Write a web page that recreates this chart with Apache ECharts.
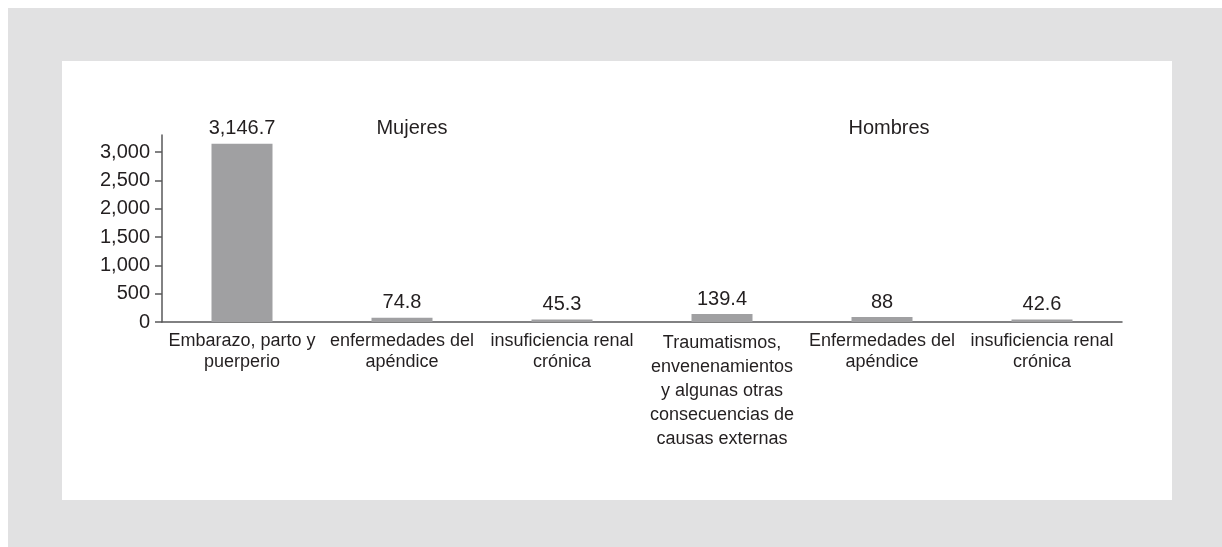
<!DOCTYPE html>
<html>
<head>
<meta charset="utf-8">
<script src="https://cdn.jsdelivr.net/npm/echarts@6/dist/echarts.min.js"></script>
<style>
  html, body { margin: 0; padding: 0; background: #ffffff; width: 1222px; height: 547px; overflow: hidden; }
  #frame { position: absolute; left: 8px; top: 8px; width: 1214px; height: 539px; background: #e1e1e2; }
  #chart { position: absolute; left: 62px; top: 61px; width: 1110px; height: 439px; background: #ffffff; }
</style>
</head>
<body>
<div id="frame"></div>
<div id="chart"></div>
<script>
const categories = [
  "Embarazo, parto y\npuerperio",
  "enfermedades del\napéndice",
  "insuficiencia renal\ncrónica",
  "Traumatismos,\nenvenenamientos\ny algunas otras\nconsecuencias de\ncausas externas",
  "Enfermedades del\napéndice",
  "insuficiencia renal\ncrónica"
];
const values = [3146.7, 74.8, 45.3, 139.4, 88, 42.6];
const yTicks = [0, 500, 1000, 1500, 2000, 2500, 3000];
const groupLabels = ["Mujeres", "Hombres"];

const FONT = '"Liberation Sans", Arial, Helvetica, sans-serif';
const TXT = '#231f20';
const fmt = v => Number(v).toLocaleString('en-US', { maximumFractionDigits: 1 });

const chart = echarts.init(document.getElementById('chart'), null, { renderer: 'canvas' });
chart.setOption({
  backgroundColor: '#ffffff',
  animation: false,
  textStyle: { fontFamily: FONT, color: TXT },
  title: [
    { text: groupLabels[0], left: 345, top: 52, textAlign: 'center',
      textStyle: { fontFamily: FONT, fontSize: 20, fontWeight: 'normal', color: TXT } },
    { text: groupLabels[1], left: 822, top: 52, textAlign: 'center',
      textStyle: { fontFamily: FONT, fontSize: 20, fontWeight: 'normal', color: TXT } }
  ],
  grid: { left: 100, right: 50, top: 74, bottom: 178, containLabel: false },
  xAxis: {
    type: 'category',
    data: categories,
    axisLine: { show: true, lineStyle: { color: '#58585a', width: 1.5 } },
    axisTick: { show: false },
    axisLabel: {
      interval: 0, margin: 9, fontSize: 18,
      color: TXT, fontFamily: FONT, align: 'center',
      formatter: (v) => (v.split('\n').length > 2 ? '{t|' : '{n|') + v.split('\n').join('}\n' + (v.split('\n').length > 2 ? '{t|' : '{n|')) + '}',
      rich: {
        n: { fontSize: 18, lineHeight: 21, color: TXT, fontFamily: FONT, align: 'center' },
        t: { fontSize: 18, lineHeight: 24, color: TXT, fontFamily: FONT, align: 'center' }
      }
    },
    splitLine: { show: false }
  },
  yAxis: {
    type: 'value',
    min: 0, max: 3300, interval: 500,
    axisLine: { show: true, lineStyle: { color: '#58585a', width: 1.5 } },
    axisTick: { show: true, length: 7, lineStyle: { color: '#58585a', width: 1.5 }, customValues: yTicks },
    axisLabel: { fontSize: 20, color: TXT, fontFamily: FONT, margin: 12, customValues: yTicks, formatter: fmt },
    splitLine: { show: false }
  },
  series: [{
    type: 'bar',
    data: values,
    barWidth: 61,
    itemStyle: { color: '#a0a0a2' },
    label: {
      show: true, position: 'top', distance: 5,
      fontSize: 20, color: TXT, fontFamily: FONT,
      formatter: p => fmt(p.value)
    }
  }]
});
</script>
</body>
</html>
